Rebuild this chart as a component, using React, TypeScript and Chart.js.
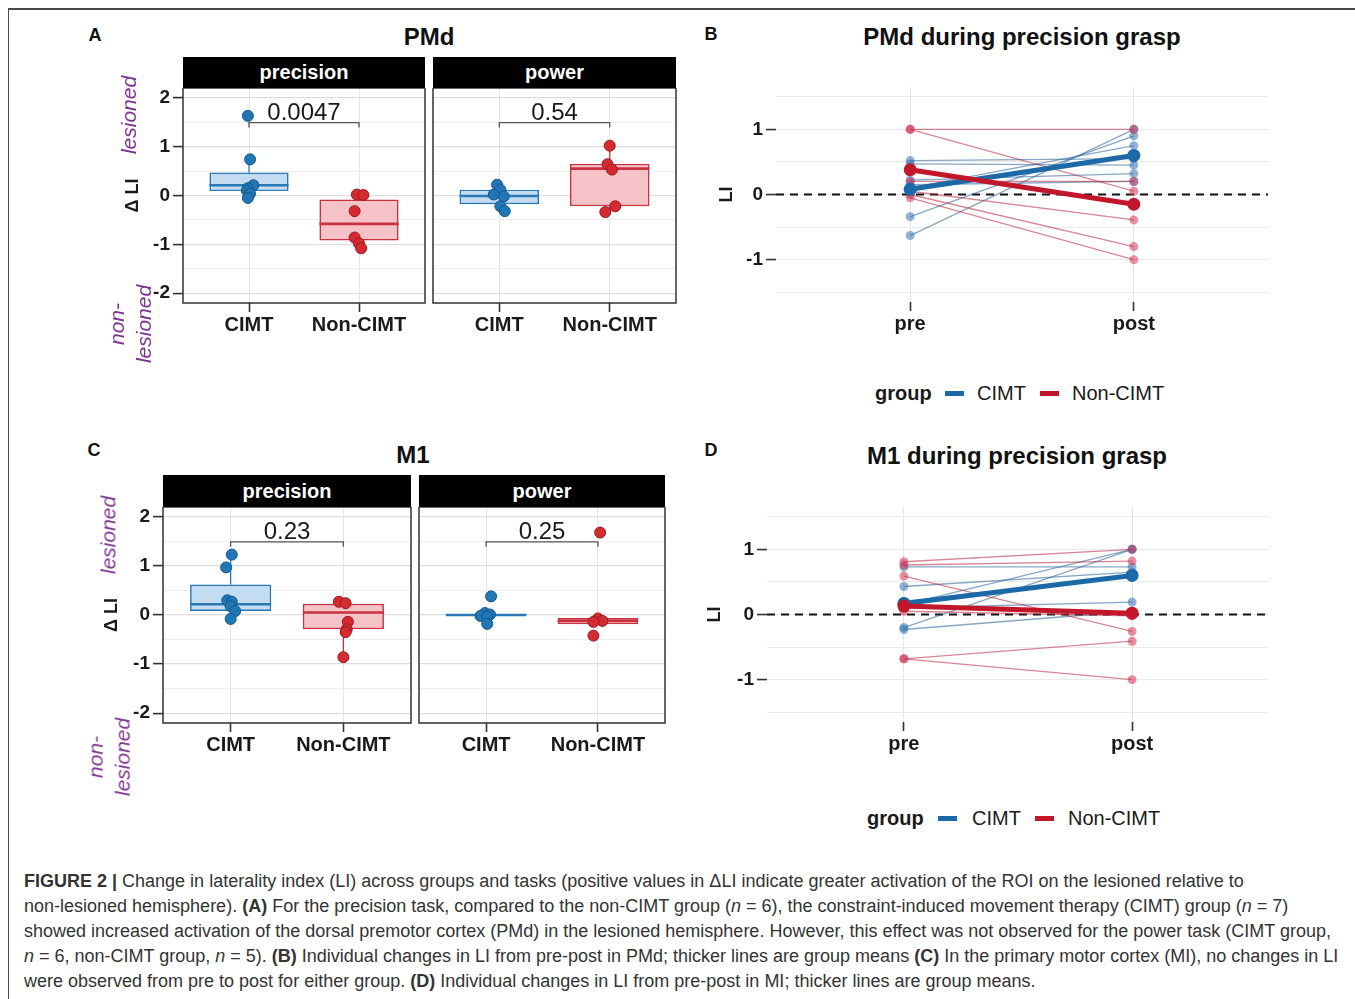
import React, { useEffect, useRef } from "react";
import { Chart, registerables } from "chart.js";

Chart.register(...registerables);

const FONT = "'Liberation Sans', Arial, Helvetica, sans-serif";

// ---------- categories / ticks ----------
const groups = ["CIMT", "Non-CIMT"];
const timepoints = ["pre", "post"];
const groupTicks = [1, 2];
const boxGridValues = [-2, -1.5, -1, -0.5, 0, 0.5, 1, 1.5, 2];
const lineGridValues = [-1.5, -1, -0.5, 0, 0.5, 1, 1.5];

// ---------- Panel A: PMd (ΔLI) ----------
const pmdPrecisionCIMT = [1.63, 0.74, 0.21, 0.15, 0.1, 0.04, -0.05];
const pmdPrecisionCIMTJitter = [-0.01, 0.01, 0.04, -0.01, -0.02, 0.01, -0.01];
const pmdPrecisionNon = [0.02, 0.01, -0.32, -0.86, -0.98, -1.08];
const pmdPrecisionNonJitter = [-0.02, 0.04, -0.04, -0.04, 0.0, 0.02];
// [lower whisker, q1, median, q3, upper whisker]
const pmdPrecisionCIMTBox = [-0.05, 0.09, 0.21, 0.47, 0.74];
const pmdPrecisionNonBox = [-1.08, -0.92, -0.58, -0.08, 0.02];
const pmdPrecisionP = "0.0047";

const pmdPowerCIMT = [0.22, 0.12, 0.02, -0.02, -0.22, -0.32];
const pmdPowerCIMTJitter = [-0.02, 0.01, -0.05, 0.04, 0.01, 0.05];
const pmdPowerNon = [1.02, 0.64, 0.53, -0.22, -0.34];
const pmdPowerNonJitter = [0.0, -0.02, 0.02, 0.05, -0.04];
const pmdPowerCIMTBox = [-0.32, -0.18, -0.01, 0.12, 0.22];
const pmdPowerNonBox = [-0.34, -0.22, 0.55, 0.65, 1.02];
const pmdPowerP = "0.54";

// ---------- Panel C: M1 (ΔLI) ----------
const m1PrecisionCIMT = [1.23, 0.97, 0.3, 0.27, 0.18, 0.08, -0.08];
const m1PrecisionCIMTJitter = [0.01, -0.04, -0.03, 0.01, 0.0, 0.04, 0.0];
const m1PrecisionNon = [0.27, 0.24, -0.14, -0.29, -0.35, -0.86];
const m1PrecisionNonJitter = [-0.04, 0.02, 0.04, 0.03, 0.02, 0.0];
const m1PrecisionCIMTBox = [-0.08, 0.08, 0.22, 0.62, 1.23];
const m1PrecisionNonBox = [-0.86, -0.29, 0.05, 0.23, 0.27];
const m1PrecisionP = "0.23";

const m1PowerCIMT = [0.38, 0.04, 0.01, -0.02, -0.03, -0.18];
const m1PowerCIMTJitter = [0.045, -0.01, 0.035, -0.05, 0.01, 0.01];
const m1PowerNon = [1.68, -0.07, -0.12, -0.14, -0.42];
const m1PowerNonJitter = [0.02, 0.0, 0.04, -0.04, -0.04];
const m1PowerCIMTBox = [-0.02, -0.02, 0.0, 0.02, 0.02];
const m1PowerNonBox = [-0.19, -0.19, -0.12, -0.06, -0.06];
const m1PowerP = "0.25";

const bracketLevel = 1.49;

// ---------- Panel B: PMd during precision grasp (LI) ----------
const pmdCIMTPre = [0.52, 0.47, 0.22, 0.15, 0.1, -0.34, -0.63];
const pmdCIMTPost = [0.55, 0.45, 0.32, 0.2, 0.75, 0.9, 1.0];
const pmdCIMTMean = [0.08, 0.6];
const pmdNonPre = [1.0, 1.0, 0.2, 0.05, 0.0, -0.05];
const pmdNonPost = [1.0, 0.05, 0.2, -0.39, -0.8, -1.0];
const pmdNonMean = [0.38, -0.15];

// ---------- Panel D: M1 during precision grasp (LI) ----------
const m1CIMTPre = [0.73, 0.43, 0.15, 0.1, -0.2, -0.23, 0.2];
const m1CIMTPost = [0.73, 0.65, 1.0, 0.19, 1.0, 0.05, 0.6];
const m1CIMTMean = [0.17, 0.6];
const m1NonPre = [0.81, 0.76, 0.59, -0.68, -0.68, 0.05];
const m1NonPost = [1.0, 0.82, -0.26, -0.41, -1.0, -0.02];
const m1NonMean = [0.13, 0.02];

// ---------- colours ----------
const BLUE_PT = "#2177b5";
const BLUE_EDGE = "#14578a";
const BLUE_FILL = "#c3dcf1";
const BLUE_LINE = "#2a78b6";
const RED_PT = "#d42a30";
const RED_EDGE = "#9a1a20";
const RED_FILL = "#f5c2c8";
const RED_LINE = "#c8313d";
const BLUE_MEAN = "#1b69a7";
const RED_MEAN = "#c2172b";
const BLUE_THIN = "rgba(35,95,150,0.55)";
const BLUE_THIN_PT = "rgba(55,115,180,0.55)";
const RED_THIN = "rgba(180,35,60,0.55)";
const RED_THIN_PT = "rgba(210,55,85,0.55)";
const PURPLE = "#7d338f";

const isInt = (v: number) => Math.abs(v - Math.round(v)) < 1e-9;

// ---------- plugins ----------
const panelFrame = {
  id: "panelFrame",
  afterDraw(chart: any, _a: any, opts: any) {
    if (!opts || !opts.show) return;
    const { ctx, chartArea: a } = chart;
    ctx.save();
    ctx.strokeStyle = "#333";
    ctx.lineWidth = 1.5;
    ctx.strokeRect(a.left, a.top, a.right - a.left, a.bottom - a.top);
    ctx.restore();
  },
};

const pLabel = {
  id: "pLabel",
  afterDatasetsDraw(chart: any, _a: any, opts: any) {
    if (!opts || !opts.text) return;
    const { ctx } = chart;
    const xs = chart.scales.x;
    const ys = chart.scales.y;
    const cx = (xs.getPixelForValue(groupTicks[0]) + xs.getPixelForValue(groupTicks[1])) / 2;
    const cy = ys.getPixelForValue(opts.y);
    ctx.save();
    ctx.fillStyle = "#1a1a1a";
    ctx.font = `24px ${FONT}`;
    ctx.textAlign = "center";
    ctx.textBaseline = "alphabetic";
    ctx.fillText(opts.text, cx, cy - 3);
    ctx.restore();
  },
};

const hLine = {
  id: "hLine",
  beforeDatasetsDraw(chart: any, _a: any, opts: any) {
    if (!opts || opts.value === undefined) return;
    const { ctx, chartArea: a } = chart;
    const y = chart.scales.y.getPixelForValue(opts.value);
    ctx.save();
    ctx.strokeStyle = "#111";
    ctx.lineWidth = 1.8;
    ctx.setLineDash([8, 6]);
    ctx.beginPath();
    ctx.moveTo(a.left, y);
    ctx.lineTo(a.right, y);
    ctx.stroke();
    ctx.restore();
  },
};

// ---------- configs ----------
type Facet = {
  cimt: number[];
  cimtJit: number[];
  non: number[];
  nonJit: number[];
  cimtBox: number[];
  nonBox: number[];
  p: string;
};

function xAxis(labels: string[], height: number) {
  return {
    type: "linear",
    min: 0.4,
    max: 2.6,
    offset: false,
    afterBuildTicks: (s: any) => {
      s.ticks = groupTicks.map((v) => ({ value: v }));
    },
    afterFit: (s: any) => {
      s.height = height;
      s.paddingLeft = 0;
      s.paddingRight = 0;
    },
    ticks: {
      autoSkip: false,
      maxRotation: 0,
      padding: 1,
      color: "#1a1a1a",
      font: { family: FONT, size: 20, weight: "bold" },
      callback: (v: number) => labels[Math.round(v) - 1],
    },
    grid: {
      offset: false,
      color: "#e4e4e4",
      lineWidth: 1,
      tickColor: "#333",
      tickLength: 9,
      tickWidth: 1.6,
    },
    border: { display: false },
  };
}

function yAxis(opts: {
  min: number;
  max: number;
  grid: number[];
  show: boolean;
  width: number;
  title: string;
}) {
  return {
    type: "linear",
    min: opts.min,
    max: opts.max,
    beginAtZero: false,
    afterBuildTicks: (s: any) => {
      s.ticks = opts.grid.map((v) => ({ value: v }));
    },
    afterFit: (s: any) => {
      s.width = opts.width;
      s.paddingTop = 0;
      s.paddingBottom = 0;
    },
    ticks: {
      display: opts.show,
      padding: 3,
      color: "#1a1a1a",
      font: { family: FONT, size: 19, weight: "bold" },
      callback: (v: number) => (isInt(v) ? String(v) : ""),
    },
    grid: {
      drawTicks: opts.show,
      tickLength: 10,
      tickWidth: 1.6,
      color: (c: any) => (c.tick && isInt(c.tick.value) ? "#dddddd" : "#ececec"),
      lineWidth: (c: any) => (c.tick && isInt(c.tick.value) ? 1.2 : 0.9),
      tickColor: (c: any) => (c.tick && isInt(c.tick.value) ? "#333" : "rgba(0,0,0,0)"),
    },
    border: { display: false },
    title: {
      display: opts.show && !!opts.title,
      text: opts.title,
      color: "#1a1a1a",
      font: { family: FONT, size: 18, weight: "bold" },
      padding: { top: 4, bottom: 4 },
    },
  };
}

function boxFacetConfig(f: Facet, show: boolean, yWidth: number): any {
  const hw = 0.36;
  const ds: any[] = [];
  const groupsData = [
    { x: 1, vals: f.cimt, jit: f.cimtJit, box: f.cimtBox, pt: BLUE_PT, edge: BLUE_EDGE, line: BLUE_LINE },
    { x: 2, vals: f.non, jit: f.nonJit, box: f.nonBox, pt: RED_PT, edge: RED_EDGE, line: RED_LINE },
  ];
  // points (top)
  groupsData.forEach((g) => {
    ds.push({
      type: "scatter",
      data: g.vals.map((v, i) => ({ x: g.x + g.jit[i], y: v })),
      pointRadius: 5.5,
      backgroundColor: g.pt,
      borderColor: g.edge,
      borderWidth: 1,
      order: 0,
    });
  });
  // bracket
  ds.push({
    type: "scatter",
    showLine: true,
    data: [
      { x: groupTicks[0], y: bracketLevel - 0.1 },
      { x: groupTicks[0], y: bracketLevel },
      { x: groupTicks[1], y: bracketLevel },
      { x: groupTicks[1], y: bracketLevel - 0.1 },
    ],
    borderColor: "#555",
    borderWidth: 1.3,
    pointRadius: 0,
    order: 1,
  });
  // medians and whiskers
  groupsData.forEach((g) => {
    const [lo, q1, med, q3, hi] = g.box;
    ds.push({
      type: "scatter",
      showLine: true,
      data: [
        { x: g.x - hw, y: med },
        { x: g.x + hw, y: med },
      ],
      borderColor: g.line,
      borderWidth: 2.6,
      pointRadius: 0,
      order: 2,
    });
    if (hi > q3)
      ds.push({
        type: "scatter",
        showLine: true,
        data: [
          { x: g.x, y: q3 },
          { x: g.x, y: hi },
        ],
        borderColor: g.line,
        borderWidth: 1.3,
        pointRadius: 0,
        order: 3,
      });
    if (lo < q1)
      ds.push({
        type: "scatter",
        showLine: true,
        data: [
          { x: g.x, y: q1 },
          { x: g.x, y: lo },
        ],
        borderColor: g.line,
        borderWidth: 1.3,
        pointRadius: 0,
        order: 3,
      });
  });
  // boxes
  ds.push({
    type: "bar",
    data: groupsData.map((g) => ({ x: g.x, y: [g.box[1], g.box[3]] })),
    backgroundColor: [BLUE_FILL, RED_FILL],
    borderColor: [BLUE_LINE, RED_LINE],
    borderWidth: 1.7,
    borderSkipped: false,
    barPercentage: 0.72,
    categoryPercentage: 1,
    order: 4,
  });

  return {
    type: "scatter",
    data: { datasets: ds },
    plugins: [panelFrame, pLabel],
    options: {
      responsive: false,
      animation: false,
      events: [],
      layout: { autoPadding: false, padding: { left: 0, right: 2, top: 0, bottom: 0 } },
      plugins: {
        legend: { display: false },
        tooltip: { enabled: false },
        panelFrame: { show: true },
        pLabel: { text: f.p, y: bracketLevel },
      },
      scales: {
        x: xAxis(groups, 45),
        y: yAxis({ min: -2.2, max: 2.2, grid: boxGridValues, show, width: yWidth, title: "Δ LI" }),
      },
    },
  };
}

function lineConfig(
  cPre: number[],
  cPost: number[],
  cMean: number[],
  nPre: number[],
  nPost: number[],
  nMean: number[],
  yWidth: number
): any {
  const ds: any[] = [];
  ds.push({
    data: [
      { x: 1, y: nMean[0] },
      { x: 2, y: nMean[1] },
    ],
    borderColor: RED_MEAN,
    backgroundColor: RED_MEAN,
    borderWidth: 5,
    pointRadius: 6.5,
    pointBorderWidth: 0,
    order: 0,
  });
  ds.push({
    data: [
      { x: 1, y: cMean[0] },
      { x: 2, y: cMean[1] },
    ],
    borderColor: BLUE_MEAN,
    backgroundColor: BLUE_MEAN,
    borderWidth: 5,
    pointRadius: 6.5,
    pointBorderWidth: 0,
    order: 1,
  });
  nPre.forEach((v, i) =>
    ds.push({
      data: [
        { x: 1, y: v },
        { x: 2, y: nPost[i] },
      ],
      borderColor: RED_THIN,
      backgroundColor: RED_THIN_PT,
      borderWidth: 1.3,
      pointRadius: 4.5,
      pointBorderWidth: 0,
      order: 2,
    })
  );
  cPre.forEach((v, i) =>
    ds.push({
      data: [
        { x: 1, y: v },
        { x: 2, y: cPost[i] },
      ],
      borderColor: BLUE_THIN,
      backgroundColor: BLUE_THIN_PT,
      borderWidth: 1.3,
      pointRadius: 4.5,
      pointBorderWidth: 0,
      order: 3,
    })
  );
  return {
    type: "line",
    data: { datasets: ds },
    plugins: [hLine],
    options: {
      responsive: false,
      animation: false,
      events: [],
      layout: { autoPadding: false, padding: { left: 0, right: 2, top: 0, bottom: 0 } },
      plugins: {
        legend: { display: false },
        tooltip: { enabled: false },
        hLine: { value: 0 },
      },
      scales: {
        x: xAxis(timepoints, 45),
        y: {
          ...yAxis({ min: -1.65, max: 1.65, grid: lineGridValues, show: true, width: yWidth, title: "LI" }),
          grid: {
            drawTicks: true,
            tickLength: 10,
            tickWidth: 1.6,
            color: "#ebebeb",
            lineWidth: 1.1,
            tickColor: (c: any) => (c.tick && isInt(c.tick.value) ? "#333" : "rgba(0,0,0,0)"),
          },
        },
      },
    },
  };
}

// ---------- components ----------
function ChartCanvas({ left, top, width, height, config }: any) {
  const ref = useRef<HTMLCanvasElement>(null);
  useEffect(() => {
    const chart = new Chart(ref.current as HTMLCanvasElement, config);
    return () => chart.destroy();
  }, []);
  return (
    <canvas
      ref={ref}
      width={width}
      height={height}
      style={{ position: "absolute", left, top, width, height }}
    />
  );
}

function Txt({
  x,
  y,
  size,
  weight = "normal",
  italic = false,
  color = "#111",
  rotate = false,
  lh = 1.2,
  children,
}: any) {
  return (
    <div
      style={{
        position: "absolute",
        left: x,
        top: y,
        transform: `translate(-50%, -50%)${rotate ? " rotate(-90deg)" : ""}`,
        fontFamily: FONT,
        fontSize: size,
        fontWeight: weight,
        fontStyle: italic ? "italic" : "normal",
        color,
        whiteSpace: "pre",
        textAlign: "center",
        lineHeight: lh,
      }}
    >
      {children}
    </div>
  );
}

function Strip({ left, top, width, height, text }: any) {
  return (
    <div
      style={{
        position: "absolute",
        left,
        top,
        width,
        height,
        background: "#000",
        color: "#fff",
        fontFamily: FONT,
        fontWeight: "bold",
        fontSize: 20,
        display: "flex",
        alignItems: "center",
        justifyContent: "center",
      }}
    >
      {text}
    </div>
  );
}

function Legend({ y, gx, bx, cx, rx, nx }: any) {
  const seg = (left: number, color: string) => (
    <div style={{ position: "absolute", left, top: y - 2, width: 19, height: 4.5, background: color }} />
  );
  const lab = (left: number, text: string, bold: boolean) => (
    <div
      style={{
        position: "absolute",
        left,
        top: y - 12,
        fontFamily: FONT,
        fontSize: 20,
        lineHeight: "24px",
        fontWeight: bold ? "bold" : "normal",
        color: "#1a1a1a",
        whiteSpace: "nowrap",
      }}
    >
      {text}
    </div>
  );
  return (
    <>
      {lab(gx, "group", true)}
      {seg(bx, BLUE_MEAN)}
      {lab(cx, groups[0], false)}
      {seg(rx, RED_MEAN)}
      {lab(nx, groups[1], false)}
    </>
  );
}

const facetA1: Facet = {
  cimt: pmdPrecisionCIMT,
  cimtJit: pmdPrecisionCIMTJitter,
  non: pmdPrecisionNon,
  nonJit: pmdPrecisionNonJitter,
  cimtBox: pmdPrecisionCIMTBox,
  nonBox: pmdPrecisionNonBox,
  p: pmdPrecisionP,
};
const facetA2: Facet = {
  cimt: pmdPowerCIMT,
  cimtJit: pmdPowerCIMTJitter,
  non: pmdPowerNon,
  nonJit: pmdPowerNonJitter,
  cimtBox: pmdPowerCIMTBox,
  nonBox: pmdPowerNonBox,
  p: pmdPowerP,
};
const facetC1: Facet = {
  cimt: m1PrecisionCIMT,
  cimtJit: m1PrecisionCIMTJitter,
  non: m1PrecisionNon,
  nonJit: m1PrecisionNonJitter,
  cimtBox: m1PrecisionCIMTBox,
  nonBox: m1PrecisionNonBox,
  p: m1PrecisionP,
};
const facetC2: Facet = {
  cimt: m1PowerCIMT,
  cimtJit: m1PowerCIMTJitter,
  non: m1PowerNon,
  nonJit: m1PowerNonJitter,
  cimtBox: m1PowerCIMTBox,
  nonBox: m1PowerNonBox,
  p: m1PowerP,
};

export default function App() {
  const capStyle: any = {
    position: "absolute",
    left: 24,
    whiteSpace: "nowrap",
    fontFamily: FONT,
    fontSize: 18,
    lineHeight: "25px",
    color: "#333",
  };
  const capLines = [
    <>
      <b>FIGURE 2 |</b> Change in laterality index (LI) across groups and tasks (positive values in ΔLI indicate greater activation of the ROI on the lesioned relative to
    </>,
    <>
      non-lesioned hemisphere). <b>(A)</b> For the precision task, compared to the non-CIMT group (<i>n</i> = 6), the constraint-induced movement therapy (CIMT) group (<i>n</i> = 7)
    </>,
    <>
      showed increased activation of the dorsal premotor cortex (PMd) in the lesioned hemisphere. However, this effect was not observed for the power task (CIMT group,
    </>,
    <>
      <i>n</i> = 6, non-CIMT group, <i>n</i> = 5). <b>(B)</b> Individual changes in LI from pre-post in PMd; thicker lines are group means <b>(C)</b> In the primary motor cortex (MI), no changes in LI
    </>,
    <>
      were observed from pre to post for either group. <b>(D)</b> Individual changes in LI from pre-post in MI; thicker lines are group means.
    </>,
  ];

  return (
    <div
      style={{
        position: "absolute",
        left: 0,
        top: 0,
        width: 1355,
        height: 999,
        overflow: "hidden",
        background: "#fff",
      }}
    >
      <div
        style={{
          position: "absolute",
          left: 8,
          top: 8,
          width: 1400,
          height: 1100,
          borderLeft: "1.5px solid #4a4a4a",
          borderTop: "2px solid #4a4a4a",
        }}
      />

      {/* Panel A */}
      <Txt x={95} y={36} size={18} weight="bold">A</Txt>
      <Txt x={429} y={37} size={24} weight="bold">PMd</Txt>
      <Strip left={183} top={57} width={242} height={31} text="precision" />
      <Strip left={433} top={57} width={243} height={31} text="power" />
      <ChartCanvas left={118} top={88} width={309} height={260} config={boxFacetConfig(facetA1, true, 65)} />
      <ChartCanvas left={431} top={88} width={247} height={260} config={boxFacetConfig(facetA2, false, 2)} />
      <Txt x={129} y={115} size={21} italic color={PURPLE} rotate>lesioned</Txt>
      <Txt x={130} y={324} size={21} italic color={PURPLE} rotate lh={1.3}>{"non-\nlesioned"}</Txt>

      {/* Panel B */}
      <Txt x={711} y={35} size={18} weight="bold">B</Txt>
      <Txt x={1022} y={37} size={24} weight="bold">PMd during precision grasp</Txt>
      <ChartCanvas
        left={712}
        top={87}
        width={558}
        height={260}
        config={lineConfig(pmdCIMTPre, pmdCIMTPost, pmdCIMTMean, pmdNonPre, pmdNonPost, pmdNonMean, 64)}
      />
      <Legend y={393} gx={875} bx={945} cx={977} rx={1040} nx={1072} />

      {/* Panel C */}
      <Txt x={94} y={451} size={18} weight="bold">C</Txt>
      <Txt x={413} y={455} size={24} weight="bold">M1</Txt>
      <Strip left={163} top={475} width={248} height={32} text="precision" />
      <Strip left={419} top={475} width={246} height={32} text="power" />
      <ChartCanvas left={97} top={507} width={316} height={261} config={boxFacetConfig(facetC1, true, 66)} />
      <ChartCanvas left={417} top={507} width={250} height={261} config={boxFacetConfig(facetC2, false, 2)} />
      <Txt x={108} y={535} size={21} italic color={PURPLE} rotate>lesioned</Txt>
      <Txt x={109} y={757} size={21} italic color={PURPLE} rotate lh={1.3}>{"non-\nlesioned"}</Txt>

      {/* Panel D */}
      <Txt x={711} y={451} size={18} weight="bold">D</Txt>
      <Txt x={1017} y={456} size={24} weight="bold">M1 during precision grasp</Txt>
      <ChartCanvas
        left={700}
        top={507}
        width={571}
        height={260}
        config={lineConfig(m1CIMTPre, m1CIMTPost, m1CIMTMean, m1NonPre, m1NonPost, m1NonMean, 67)}
      />
      <Legend y={818} gx={867} bx={938} cx={972} rx={1035} nx={1068} />

      {/* Caption */}
      {capLines.map((l, i) => (
        <div key={i} style={{ ...capStyle, top: 868.5 + i * 25 }}>
          {l}
        </div>
      ))}
    </div>
  );
}
